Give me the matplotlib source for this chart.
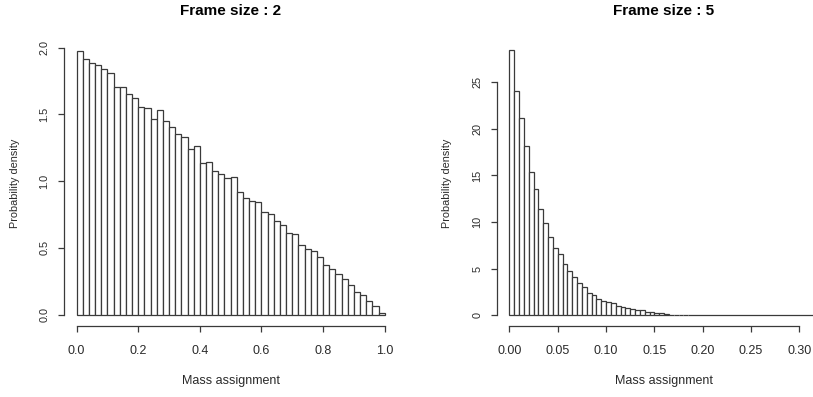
import matplotlib
matplotlib.use("Agg")
import matplotlib.pyplot as plt
import numpy as np

# histogram densities
frame2_density = [1.977, 1.913, 1.883, 1.873, 1.843, 1.813, 1.708, 1.703, 1.653, 1.623,
                  1.553, 1.548, 1.468, 1.533, 1.448, 1.403, 1.353, 1.328, 1.243, 1.263,
                  1.138, 1.143, 1.078, 1.053, 1.021, 1.034, 0.919, 0.874, 0.854, 0.844,
                  0.769, 0.754, 0.699, 0.669, 0.614, 0.604, 0.519, 0.494, 0.479, 0.430,
                  0.375, 0.340, 0.305, 0.270, 0.225, 0.170, 0.145, 0.100, 0.065, 0.015]
frame2_binwidth = 0.02

frame5_density = [28.4, 24.0, 21.1, 18.1, 15.4, 13.5, 11.4, 9.93, 8.43, 7.21,
                  6.57, 5.50, 4.71, 4.10, 3.50, 3.00, 2.40, 2.20, 1.80, 1.60,
                  1.40, 1.30, 1.05, 0.90, 0.75, 0.68, 0.60, 0.55, 0.40, 0.40,
                  0.30, 0.30, 0.20, 0.10, 0.10, 0.10, 0.10,
                  0, 0, 0, 0, 0, 0, 0, 0, 0, 0, 0, 0, 0, 0, 0, 0, 0, 0, 0, 0, 0, 0, 0, 0, 0, 0, 0]
frame5_binwidth = 0.005

titles = ["Frame size : 2", "Frame size : 5"]
x_ticks = [[0.0, 0.2, 0.4, 0.6, 0.8, 1.0], [0.00, 0.05, 0.10, 0.15, 0.20, 0.25, 0.30]]
x_ticklabels = [["0.0", "0.2", "0.4", "0.6", "0.8", "1.0"],
                ["0.00", "0.05", "0.10", "0.15", "0.20", "0.25", "0.30"]]
y_ticks = [[0.0, 0.5, 1.0, 1.5, 2.0], [0, 5, 10, 15, 20, 25]]
y_ticklabels = [["0.0", "0.5", "1.0", "1.5", "2.0"], ["0", "5", "10", "15", "20", "25"]]

plt.rcParams['font.family'] = ['Liberation Sans', 'DejaVu Sans']
W, H = 813, 397
fig = plt.figure(figsize=(W / 100, H / 100), dpi=100)

line_col = '#3a3a3a'
text_col = '#2a2a2a'

# axes boxes in pixels: left, right, top, bottom
boxes = [(64, 397, 40, 326), (497, 830, 40, 326)]
xlims = [(-0.041, 1.04), (-0.0128, 0.3317)]
ylims = [(-0.085, 2.057), (-1.13, 29.5)]
data = [(frame2_density, frame2_binwidth), (frame5_density, frame5_binwidth)]

for i in range(2):
    l, r, t, b = boxes[i]
    ax = fig.add_axes([l / W, (H - b) / H, (r - l) / W, (b - t) / H])
    dens, bw = data[i]
    dens = np.array(dens)
    lefts = np.arange(len(dens)) * bw
    full = dens > 0
    ax.bar(lefts[full], dens[full], width=bw, align='edge', facecolor='white',
           edgecolor=line_col, linewidth=0.9)
    # empty bins only show as a flat line on the baseline
    if (~full).any():
        ax.hlines(0, lefts[~full][0], lefts[-1] + bw, color=line_col, linewidth=0.9)
    ax.set_xlim(*xlims[i])
    ax.set_ylim(*ylims[i])

    for s in ['top', 'right']:
        ax.spines[s].set_visible(False)
    for s in ['left', 'bottom']:
        ax.spines[s].set_color(line_col)
        ax.spines[s].set_linewidth(0.9)
    ax.spines['bottom'].set_bounds(x_ticks[i][0], x_ticks[i][-1])
    ax.spines['left'].set_bounds(y_ticks[i][0], y_ticks[i][-1])

    ax.set_xticks(x_ticks[i])
    ax.set_xticklabels(x_ticklabels[i], fontsize=9, color=text_col)
    ax.set_yticks(y_ticks[i])
    ax.set_yticklabels(y_ticklabels[i], fontsize=7.8, color=text_col,
                       rotation=90, va='center')
    ax.tick_params(axis='x', length=4.5, width=0.9, color=line_col, pad=9)
    ax.tick_params(axis='y', length=4.5, width=0.9, color=line_col, pad=6)

    ax.set_xlabel("Mass assignment", fontsize=9, color=text_col)
    ax.xaxis.set_label_coords(0.5, -(381 - b) / (b - t))
    ax.xaxis.label.set_va('center')
    ax.set_ylabel("Probability density", fontsize=7.8, color=text_col)
    ax.yaxis.set_label_coords(-(l - 15 - (447 - 15) * i) / (r - l), 0.5)
    ax.yaxis.label.set_va('center')

    ax.text(0.5, (b - 11) / (b - t), titles[i], transform=ax.transAxes,
            ha='center', va='center', fontsize=11, fontweight='bold', color='black')

fig.savefig("out.png", dpi=100)
